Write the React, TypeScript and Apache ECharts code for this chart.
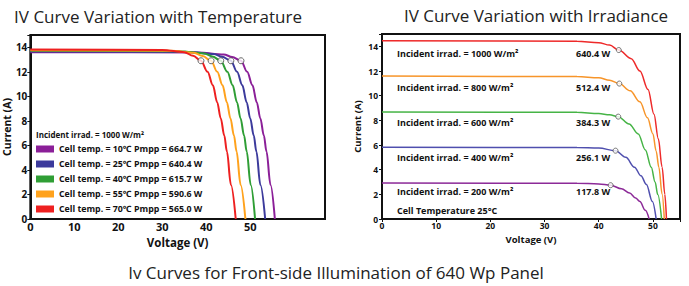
import React, { useEffect, useRef } from "react";
import * as echarts from "echarts";

// ---------- Data: Temperature chart (V, A) ----------
const tempNames = [
  "Cell temp. = 10℃ Pmpp = 664.7 W",
  "Cell temp. = 25℃ Pmpp = 640.4 W",
  "Cell temp. = 40℃ Pmpp = 615.7 W",
  "Cell temp. = 55℃ Pmpp = 590.6 W",
  "Cell temp. = 70℃ Pmpp = 565.0 W",
];
const tempColors = ["#8b1f98", "#3c3a9c", "#2f9e35", "#ffa21c", "#ee2020"];
const temp10 = [[0,13.6],[38,13.58],[44,13.42],[45.9,13.2],[47.9,12.9],[49.3,12.0],[50.5,10.9],[51.5,9.5],[52.3,8.2],[53.1,6.8],[53.7,5.5],[54.6,2.8],[55.6,0]];
const temp25 = [[0,13.66],[36,13.62],[41.7,13.45],[43.6,13.22],[45.6,12.9],[47.0,12.0],[48.2,10.9],[49.2,9.5],[50.0,8.2],[50.8,6.8],[51.4,5.5],[52.3,2.8],[53.4,0]];
const temp40 = [[0,13.72],[34,13.68],[39.5,13.5],[41.4,13.25],[43.3,12.9],[44.8,12.0],[46.0,10.9],[47.0,9.5],[47.8,8.2],[48.6,6.8],[49.2,5.5],[50.1,2.8],[51.1,0]];
const temp55 = [[0,13.76],[32,13.72],[37.2,13.55],[39.2,13.28],[41.1,12.9],[42.5,12.0],[43.7,10.9],[44.7,9.5],[45.5,8.2],[46.3,6.8],[46.9,5.5],[47.8,2.8],[48.9,0]];
const temp70 = [[0,13.82],[30,13.78],[35,13.6],[37,13.3],[38.8,12.9],[40.3,12.0],[41.5,10.9],[42.5,9.5],[43.3,8.2],[44.1,6.8],[44.7,5.5],[45.6,2.8],[46.7,0]];
const tempMpp = [[38.8,12.9],[41.1,12.9],[43.3,12.9],[45.6,12.9],[47.9,12.9]];

// ---------- Data: Irradiance chart (V, A) ----------
const irrLabels = [
  "Incident irrad. = 1000 W/m²",
  "Incident irrad. = 800 W/m²",
  "Incident irrad. = 600 W/m²",
  "Incident irrad. = 400 W/m²",
  "Incident irrad. = 200 W/m²",
];
const irrPower = ["640.4 W", "512.4 W", "384.3 W", "256.1 W", "117.8 W"];
const irrColors = ["#ee2a2a", "#f7952a", "#46b446", "#4f4fae", "#8c2a98"];
const irr1000 = [[0,14.45],[36,14.42],[40,14.3],[42,14.1],[43.7,13.7],[46,13.0],[47.6,12.0],[49.1,10.5],[50.2,8.5],[51.0,6.5],[51.7,4.2],[52.2,2.0],[52.5,0]];
const irr800 = [[0,11.6],[36,11.55],[40,11.45],[42,11.25],[43.8,10.98],[45.8,10.4],[47.6,9.5],[49.0,8.2],[50.0,6.9],[50.6,5.5],[51.1,4.2],[51.7,2.0],[52.1,0]];
const irr600 = [[0,8.68],[36,8.65],[40,8.55],[42,8.45],[43.6,8.3],[45.6,7.7],[47.3,6.9],[48.6,5.6],[49.7,4.2],[50.4,3.0],[50.9,1.98],[51.6,0]];
const irr400 = [[0,5.82],[36,5.8],[40,5.75],[43.1,5.54],[45.0,5.0],[46.6,4.2],[47.8,3.5],[48.8,2.8],[49.9,1.42],[50.6,0]];
const irr200 = [[0,2.92],[36,2.9],[40,2.84],[42.2,2.74],[44.2,2.45],[45.7,2.1],[46.8,1.7],[47.6,1.42],[48.6,0.7],[49.3,0]];
const irrMpp = [[43.7,13.7],[43.8,10.98],[43.6,8.3],[43.1,5.54],[42.2,2.74]];

const FONT = "'Open Sans', 'Noto Sans', sans-serif";

export default function App() {
  const ref = useRef<HTMLDivElement>(null);
  useEffect(() => {
    if (!ref.current) return;
    const chart = echarts.init(ref.current, undefined, { renderer: "svg" });
    const tempSeries = [temp10, temp25, temp40, temp55, temp70];
    const irrSeries = [irr1000, irr800, irr600, irr400, irr200];

    const series: any[] = [];
    tempSeries.forEach((d, i) => {
      series.push({
        type: "line", name: tempNames[i], xAxisIndex: 0, yAxisIndex: 0,
        data: d, showSymbol: false, smooth: 0.35, smoothMonotone: "x",
        lineStyle: { color: tempColors[i], width: 2 }, itemStyle: { color: tempColors[i] },
        z: 2,
      });
    });
    series.push({
      type: "scatter", name: "mppT", xAxisIndex: 0, yAxisIndex: 0, data: tempMpp,
      symbol: "circle", symbolSize: 6,
      itemStyle: { color: "#fff", borderColor: "#444", borderWidth: 1 }, z: 5,
    });
    irrSeries.forEach((d, i) => {
      series.push({
        type: "line", name: "irr" + i, xAxisIndex: 1, yAxisIndex: 1,
        data: d, showSymbol: false, smooth: 0.35, smoothMonotone: "x",
        lineStyle: { color: irrColors[i], width: 1.5 }, itemStyle: { color: irrColors[i] },
        z: 2,
      });
    });
    series.push({
      type: "scatter", name: "mppI", xAxisIndex: 1, yAxisIndex: 1, data: irrMpp,
      symbol: "circle", symbolSize: 5,
      itemStyle: { color: "#fff", borderColor: "#555", borderWidth: 1 }, z: 5,
    });

    const axisLine = { show: true, lineStyle: { color: "#111", width: 2 } };
    const labelL = { fontFamily: FONT, fontWeight: "bold", fontSize: 11, color: "#111" };
    const labelR = { fontFamily: FONT, fontWeight: "bold", fontSize: 8.5, color: "#111" };

    const graphics: any[] = [
      { type: "text", x: 158, y: 16, style: { text: "IV Curve Variation with Temperature", fontFamily: FONT, fontSize: 17, fontWeight: 500, fill: "#222", align: "center", verticalAlign: "middle" } },
      { type: "text", x: 536, y: 15, style: { text: "IV Curve Variation with Irradiance", fontFamily: FONT, fontSize: 17, fontWeight: 500, fill: "#222", align: "center", verticalAlign: "middle" } },
      { type: "text", x: 336, y: 272, style: { text: "Iv Curves for Front-side Illumination of 640 Wp Panel", fontFamily: FONT, fontSize: 17, fontWeight: "normal", fill: "#222", align: "center", verticalAlign: "middle" } },
      { type: "text", x: 36, y: 134, style: { text: "Incident irrad. = 1000 W/m²", fontFamily: FONT, fontSize: 8, fontWeight: "bold", fill: "#111", align: "left", verticalAlign: "middle" } },
      { type: "text", x: 397, y: 210, style: { text: "Cell Temperature 25°C", fontFamily: FONT, fontSize: 9, fontWeight: "bold", fill: "#111", align: "left", verticalAlign: "middle" } },
    ];
    const rowY = [53, 87, 122.5, 157.5, 191];
    irrLabels.forEach((t, i) => {
      graphics.push({ type: "text", x: 397, y: rowY[i], style: { text: t, fontFamily: FONT, fontSize: 9, fontWeight: "bold", fill: "#111", align: "left", verticalAlign: "middle" } });
      graphics.push({ type: "text", x: 576, y: rowY[i], style: { text: irrPower[i], fontFamily: FONT, fontSize: 9, fontWeight: "bold", fill: "#111", align: "left", verticalAlign: "middle" } });
    });

    chart.setOption({
      animation: false,
      backgroundColor: "#fff",
      grid: [
        { left: 28, top: 35, width: 297, height: 184, show: true, borderColor: "#111", borderWidth: 2, backgroundColor: "transparent" },
        { left: 382, top: 34, width: 298, height: 185, show: true, borderColor: "#111", borderWidth: 2, backgroundColor: "transparent" },
      ],
      xAxis: [
        {
          type: "value", gridIndex: 0, min: 0, max: 67, interval: 10,
          name: "Voltage (V)", nameLocation: "middle", nameGap: 11,
          nameTextStyle: { fontFamily: FONT, fontWeight: "bold", fontSize: 11.5, color: "#111" },
          axisLine, axisTick: { show: false }, splitLine: { show: false },
          axisLabel: { ...labelL, margin: 2, formatter: (v: number) => (v <= 50 ? String(v) : "") },
        },
        {
          type: "value", gridIndex: 1, min: 0, max: 55, interval: 10,
          name: "Voltage (V)", nameLocation: "middle", nameGap: 14,
          nameTextStyle: { fontFamily: FONT, fontWeight: "bold", fontSize: 9.5, color: "#111" },
          axisLine, axisTick: { show: true, length: 3, lineStyle: { color: "#111" } }, splitLine: { show: false },
          axisLabel: { ...labelR, margin: 2, formatter: (v: number) => (v <= 50 ? String(v) : "") },
        },
      ],
      yAxis: [
        {
          type: "value", gridIndex: 0, min: 0, max: 15, interval: 2,
          name: "Current (A)", nameLocation: "middle", nameGap: 18, nameRotate: 90,
          nameTextStyle: { fontFamily: FONT, fontWeight: "bold", fontSize: 10.5, color: "#111" },
          axisLine, axisTick: { show: true, length: 3, lineStyle: { color: "#111" } }, splitLine: { show: false },
          axisLabel: { ...labelL, fontSize: 10, margin: 3, formatter: (v: number) => (v % 2 === 0 ? String(v) : "") },
        },
        {
          type: "value", gridIndex: 1, min: 0, max: 15, interval: 2,
          name: "Current (A)", nameLocation: "middle", nameGap: 20, nameRotate: 90,
          nameTextStyle: { fontFamily: FONT, fontWeight: "bold", fontSize: 9.5, color: "#111" },
          axisLine, axisTick: { show: true, length: 3, lineStyle: { color: "#111" } }, splitLine: { show: false },
          axisLabel: { ...labelR, margin: 4, formatter: (v: number) => (v % 2 === 0 ? String(v) : "") },
        },
      ],
      legend: {
        data: tempNames, orient: "vertical", left: 36, top: 143, padding: 0,
        itemWidth: 18, itemHeight: 7, itemGap: 3, icon: "rect",
        textStyle: { fontFamily: FONT, fontWeight: "bold", fontSize: 8.8, color: "#111", lineHeight: 12 },
        selectedMode: false,
      },
      graphic: graphics,
      series,
    });
    return () => chart.dispose();
  }, []);
  return <div ref={ref} style={{ position: "fixed", left: 0, top: 0, width: 689, height: 286, background: "#fff" }} />;
}
